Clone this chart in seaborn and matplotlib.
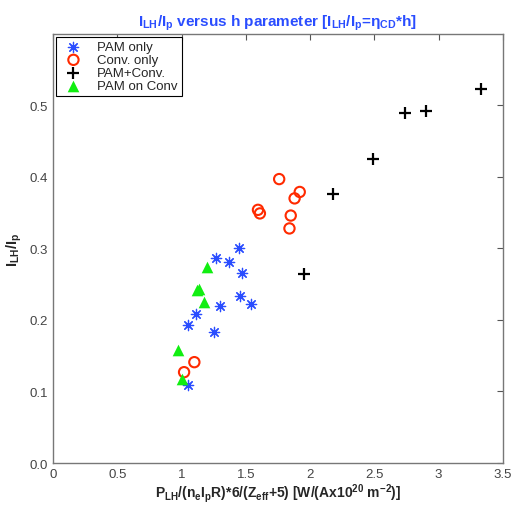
import matplotlib
matplotlib.use("Agg")
import matplotlib.pyplot as plt
import matplotlib.ticker as mticker
import seaborn as sns
import pandas as pd

# values
pam_x = [1.445, 1.265, 1.37, 1.47, 1.457, 1.54, 1.30, 1.11, 1.05, 1.25, 1.047]
pam_y = [0.301, 0.287, 0.281, 0.266, 0.233, 0.222, 0.220, 0.209, 0.193, 0.183, 0.109]

conv_x = [1.76, 1.92, 1.88, 1.595, 1.61, 1.85, 1.84, 1.10, 1.02]
conv_y = [0.397, 0.379, 0.370, 0.354, 0.349, 0.346, 0.328, 0.141, 0.127]

both_x = [3.33, 2.74, 2.90, 2.49, 2.18, 1.95]
both_y = [0.523, 0.490, 0.492, 0.425, 0.376, 0.264]

on_x = [1.198, 1.12, 1.14, 1.174, 0.97, 1.00]
on_y = [0.274, 0.242, 0.243, 0.225, 0.158, 0.117]

groups = ["PAM only", "Conv. only", "PAM+Conv.", "PAM on Conv"]
y_ticks = [0.0, 0.1, 0.2, 0.3, 0.4, 0.5]

df = pd.concat([
    pd.DataFrame({"x": pam_x, "y": pam_y, "group": groups[0]}),
    pd.DataFrame({"x": conv_x, "y": conv_y, "group": groups[1]}),
    pd.DataFrame({"x": both_x, "y": both_y, "group": groups[2]}),
    pd.DataFrame({"x": on_x, "y": on_y, "group": groups[3]}),
])

sns.set_style("white")
plt.rcParams['font.family'] = ['Liberation Sans', 'DejaVu Sans']
plt.rcParams['mathtext.fontset'] = 'custom'
plt.rcParams['mathtext.rm'] = 'Liberation Sans:bold'
plt.rcParams['mathtext.bf'] = 'Liberation Sans:bold'
plt.rcParams['mathtext.it'] = 'Liberation Sans:bold'
plt.rcParams['mathtext.default'] = 'bf'

fig = plt.figure(figsize=(5.12, 5.06), dpi=100)
ax = fig.add_axes([0.1035, 0.083, 0.8785, 0.848])

styles = {
    "PAM only": dict(marker=(8, 2, 0), color="#2a4dff", s=55, linewidths=0.9),
    "Conv. only": dict(marker="o", facecolors="none", edgecolors="#ff2a00", s=55, linewidths=1.5),
    "PAM+Conv.": dict(marker="+", color="black", s=75, linewidths=1.6),
    "PAM on Conv": dict(marker="^", color="#11ee11", s=70, linewidths=0),
}

for g in groups:
    sub = df[df["group"] == g]
    sns.scatterplot(data=sub, x="x", y="y", ax=ax, label=g, legend=False, **styles[g])

ax.set_xlim(0, 3.5)
ax.set_ylim(0, 0.6)
ax.xaxis.set_major_locator(mticker.MultipleLocator(0.5))
ax.set_yticks(y_ticks)
ax.xaxis.set_major_formatter(mticker.FuncFormatter(lambda v, p: f"{v:g}"))
ax.yaxis.set_major_formatter(mticker.FormatStrFormatter("%.1f"))
ax.tick_params(direction="in", top=True, right=True, length=4, width=0.8,
               colors="#555555", labelsize=9.5, labelcolor="#444444")
for sp in ax.spines.values():
    sp.set_color("#777777")
    sp.set_linewidth(1.0)

ax.set_xlabel(r"P$_{LH}$/(n$_e$I$_p$R)*6/(Z$_{eff}$+5) [W/(Ax10$^{20}$ m$^{-2}$)]",
              fontsize=10, fontweight="bold", labelpad=1)
ax.set_ylabel(r"I$_{LH}$/I$_p$", fontsize=10.5, fontweight="bold", labelpad=4)
ax.set_title(r"I$_{LH}$/I$_p$ versus h parameter [I$_{LH}$/I$_p$=$\eta_{CD}$*h]",
             fontsize=11, fontweight="bold", color="#2a4dff", pad=6)

leg = ax.legend(loc="upper left", fancybox=False, framealpha=1, edgecolor="black",
                fontsize=9.5, borderaxespad=0.25, handletextpad=0.8, labelspacing=0.05,
                borderpad=0.3)
leg.get_frame().set_linewidth(0.8)

fig.savefig("out.png", dpi=100)
